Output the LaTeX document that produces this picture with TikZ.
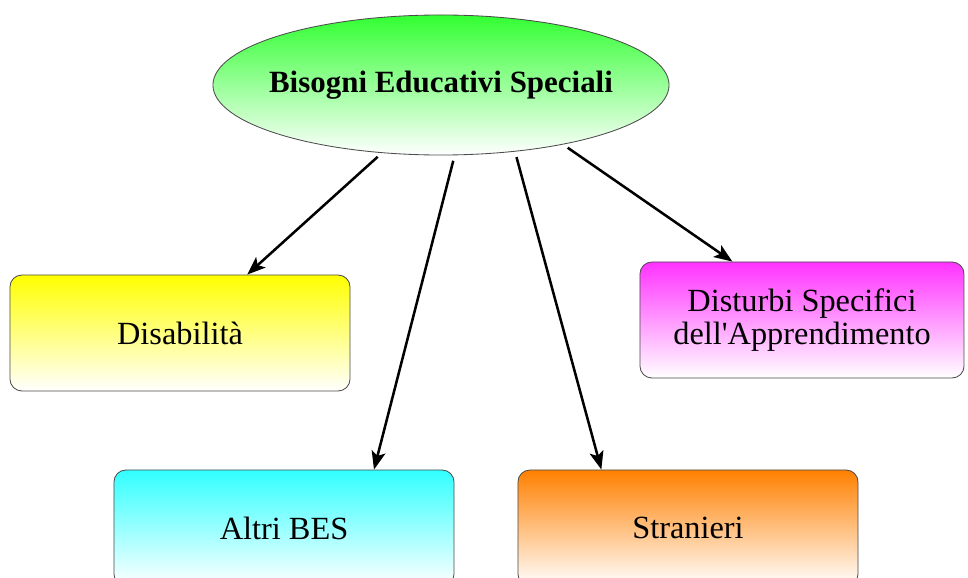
\documentclass[tikz,border=0pt]{standalone}
\usepackage{fontspec}
\setmainfont{Liberation Serif}[Ligatures=TeXOff]
\usetikzlibrary{arrows.meta,shapes.geometric}

\definecolor{verde}{RGB}{50,255,50}
\definecolor{giallo}{RGB}{255,255,0}
\definecolor{fucsia}{RGB}{255,50,255}
\definecolor{ciano}{RGB}{50,255,255}
\definecolor{arancio}{RGB}{255,128,0}

\begin{document}
\begin{tikzpicture}[x=0.025cm,y=-0.025cm,
    tema/.style={ellipse, draw=black!70, line width=0.6pt, top color=verde, bottom color=white,
        minimum width=11.4cm, minimum height=3.5cm, inner sep=0pt, font=\fontsize{22}{24}\selectfont\bfseries},
    ramo/.style={rectangle, rounded corners=0.3cm, draw=black!70, line width=0.6pt, bottom color=white,
        minimum width=8.5cm, minimum height=2.9cm, align=center, font=\fontsize{23}{24}\selectfont},
    freccia/.style={-{Stealth[length=13pt,width=10pt,inset=3pt]}, line width=1.8pt, shorten <=4pt}
    ]

\useasboundingbox (0,0) rectangle (968,578);

\node[tema] (bes) at (441,85) {\makebox[7cm]{Bisogni Educativi Speciali}};

\node[ramo, top color=giallo] (dis) at (180,333) {Disabilità};
\node[ramo, top color=fucsia, minimum width=8.1cm] (dsa) at (802,320) {Disturbi Specifici\\dell'Apprendimento};
\node[ramo, top color=ciano] (altri) at (284,528) {Altri BES};
\node[ramo, top color=arancio] (stran) at (688,528) {Stranieri};

% frecce
\draw[freccia] (bes.-131) -- (dis.41);
\draw[freccia] (bes.-79) -- (altri.33);
\draw[freccia] (bes.-42) -- (stran.146);
\draw[freccia] (bes.-26) -- (dsa.140);

\end{tikzpicture}
\end{document}
